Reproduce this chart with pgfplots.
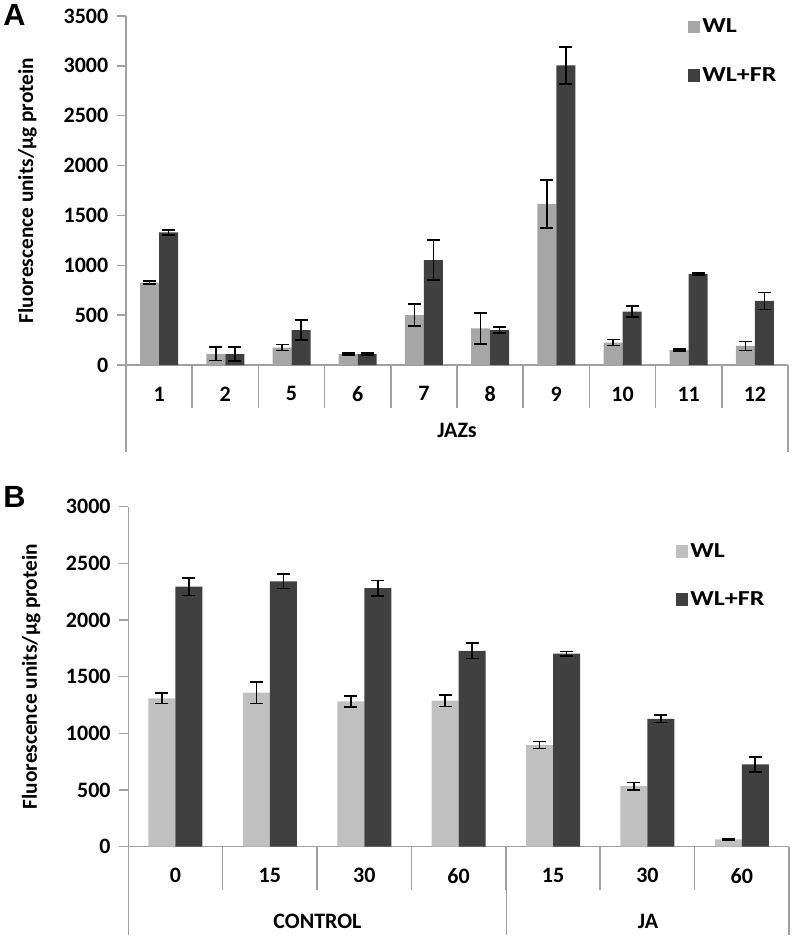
\documentclass[border=0pt]{standalone}
\usepackage{pgfplots}
\pgfplotsset{compat=1.18}
\usepackage{fontspec}
\setmainfont{Carlito}
\newfontfamily\legfont{Carlito}[FakeStretch=1.22]
\newfontfamily\letterfont{Liberation Sans}
\definecolor{axgray}{HTML}{A0A0A0}
\definecolor{wlA}{HTML}{A6A6A6}
\definecolor{wlB}{HTML}{C0C0C0}
\definecolor{fr}{HTML}{404040}

\pgfplotstableread{
x  wl   wle  fr    fre
1  825  15   1331  25
2  112  67   110   70
3  174  30   351   100
4  110  10   110   10
5  501  110  1053  200
6  368  155  351   33
7  1615 240  3006  185
8  224  30   535   54
9  150  12   913   12
10 191  45   642   85
}\dataA

\pgfplotstableread{
x  wl   wle  fr    fre
1  1309 45   2294  77
2  1359 95   2341  63
3  1282 47   2282  68
4  1288 50   1729  70
5  897  32   1703  20
6  535  32   1129  34
7  65   5    726   66
}\dataB

\pgfplotsset{
  mystyle/.style={
    scale only axis,
    axis lines*=left,
    axis line style={-, draw=axgray, line width=1.125pt},
    ymin=0,
    tick align=outside,
    major tick length=6.75pt,
    minor tick length=32.25pt,
    major x tick style={draw=none},
    minor x tick style={draw=axgray, line width=1.125pt},
    ytick style={draw=axgray, line width=1.125pt},
    /pgf/number format/assume math mode=true,
    /pgf/number format/1000 sep={},
    scaled y ticks=false,
    tick label style={font=\fontsize{16.5}{18}\selectfont\bfseries},
    xticklabel style={yshift=-6pt},
    yticklabel style={xshift=-3pt},
    ylabel style={font=\fontsize{16}{18}\selectfont\bfseries, anchor=center},
    ybar=0pt,
    legend style={draw=none, fill=none, font=\legfont\fontsize{16}{18}\selectfont\bfseries,
      anchor=north west, row sep=20.5pt, inner sep=0pt, cells={anchor=west}},
    legend image code/.code={\fill[##1,draw=none] (0pt,-4.75pt) rectangle (9pt,4.75pt);},
    error bars/error bar style={black, line width=1.2pt},
    error bars/error mark options={rotate=90, mark size=4.875pt, line width=1.2pt, black},
  }
}

\begin{document}
\begin{tikzpicture}
\path[use as bounding box] (0pt,0pt) rectangle (594.75pt,-703.5pt);

% Panel A
\begin{axis}[mystyle,
  at={(94.5pt,-273.75pt)}, anchor=south west,
  width=496.5pt, height=261.75pt,
  xmin=0.5, xmax=10.5, ymax=3500,
  ytick={0,500,...,3500},
  xtick={1,...,10},
  xticklabels={1,2,5,6,7,8,9,10,11,12},
  minor xtick={0.5,1.5,...,10.5},
  bar width=14.25pt,
  ylabel={Fluorescence units/µg protein},
  ylabel style={at={(axis description cs:-0.149,0.5)}},
  legend style={at={(axis description cs:0.848,1.0)}},
]
\addplot[fill=wlA, draw=none, error bars/.cd, y dir=both, y explicit]
  table[x=x, y=wl, y error=wle] {\dataA};
\addplot[fill=fr, draw=none, error bars/.cd, y dir=both, y explicit]
  table[x=x, y=fr, y error=fre] {\dataA};
\legend{WL, WL+FR}
\end{axis}

% Panel B
\begin{axis}[mystyle,
  at={(96.225pt,-635.025pt)}, anchor=south west,
  width=495.5pt, height=255pt,
  xmin=0.5, xmax=7.5, ymax=3000,
  ytick={0,500,...,3000},
  xtick={1,...,7},
  xticklabels={0,15,30,60,15,30,60},
  minor xtick={0.5,1.5,...,7.5},
  bar width=20.25pt,
  ylabel={Fluorescence units/µg protein},
  ylabel style={at={(axis description cs:-0.147,0.5)}},
  legend style={at={(axis description cs:0.828,0.901)}},
]
\addplot[fill=wlB, draw=none, error bars/.cd, y dir=both, y explicit]
  table[x=x, y=wl, y error=wle] {\dataB};
\addplot[fill=fr, draw=none, error bars/.cd, y dir=both, y explicit]
  table[x=x, y=fr, y error=fre] {\dataB};
\legend{WL, WL+FR}
\end{axis}

\begin{scope}[x=0.75pt,y=0.75pt]
\draw[axgray, line width=1.125pt] (126,-365) -- (126,-451.7);
\draw[axgray, line width=1.125pt] (788,-365) -- (788,-451.7);
\node[font=\fontsize{16.5}{18}\selectfont\bfseries] at (457,-430) {JAZs};
\node[font=\letterfont\fontsize{23}{26}\selectfont\bfseries, anchor=base west, inner sep=0pt] at (3,-26) {A};
\draw[axgray, line width=1.125pt] (128.3,-846.7) -- (128.3,-935);
\draw[axgray, line width=1.125pt] (506.7,-846.7) -- (506.7,-935);
\draw[axgray, line width=1.125pt] (789,-846.7) -- (789,-935);
\node[font=\fontsize{16.5}{18}\selectfont\bfseries] at (317.5,-921.7) {CONTROL};
\node[font=\fontsize{16.5}{18}\selectfont\bfseries] at (648,-921.7) {JA};
\node[font=\letterfont\fontsize{23}{26}\selectfont\bfseries, anchor=base west, inner sep=0pt] at (3,-507) {B};
\end{scope}
\end{tikzpicture}
\end{document}
